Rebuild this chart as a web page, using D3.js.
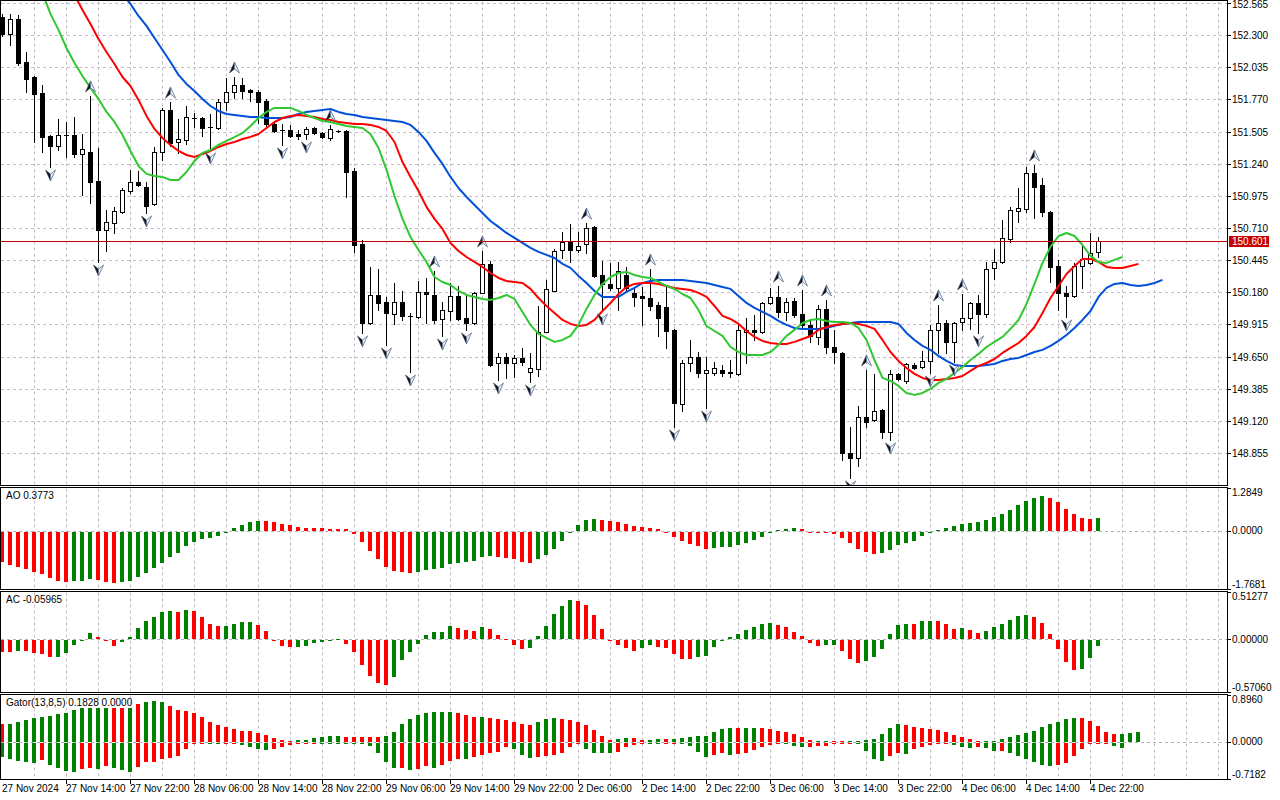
<!DOCTYPE html>
<html>
<head>
<meta charset="utf-8">
<style>
  html, body { margin: 0; padding: 0; background: #fff; }
  svg { display: block; }
  text { font-family: 'Liberation Sans', Arial, sans-serif; font-size: 10px; fill: #000; }
</style>
<script src="https://cdn.jsdelivr.net/npm/d3@7/dist/d3.min.js"></script>
</head>
<body>
<div id="chart"></div>
<script>
/* ════════════════════════════════════════════════════
   USDJPY H1 — candles, Alligator, Fractals, AO, AC, Gator
   ════════════════════════════════════════════════════ */

/* ── Candles (bar 0 = 27 Nov 06:00, one bar per hour) ── */
const opens = [
  152.450,152.310,152.434,152.079,151.955,151.823,151.469,151.387,151.477,151.477,
  151.320,151.337,151.098,150.694,150.751,150.842,151.016,151.090,151.049,150.908,
  151.337,151.683,151.420,151.436,151.617,151.617,151.543,151.535,151.749,151.832,
  151.889,151.848,151.832,151.757,151.568,151.518,151.518,151.485,151.485,151.535,
  151.494,151.452,151.510,151.510,151.180,150.578,149.927,150.158,150.100,150.001,
  150.100,149.985,149.976,150.183,150.158,149.960,150.026,150.150,149.968,149.927,
  150.174,150.414,149.597,149.647,149.597,149.639,149.523,149.548,149.853,150.191,
  150.529,150.595,150.529,150.578,150.718,150.323,150.249,150.216,150.323,150.174,
  150.150,150.133,150.076,150.059,149.870,149.259,149.597,149.647,149.515,149.515,
  149.540,149.523,149.507,149.853,149.870,149.853,150.092,150.141,150.018,150.109,
  150.001,149.911,149.812,150.042,149.729,149.680,148.856,148.814,149.152,149.128,
  149.210,149.029,149.507,149.449,149.581,149.564,149.614,149.870,149.927,149.771,
  149.935,149.968,150.092,150.001,150.381,150.430,150.619,150.850,150.867,151.164,
  151.065,150.842,150.397,150.174,150.150,150.397,150.422,150.513];
const highs = [
  152.475,152.475,152.467,152.162,151.960,151.889,151.477,151.609,151.584,151.625,
  151.485,151.799,151.370,150.859,150.883,151.040,151.189,151.180,151.090,151.378,
  151.700,151.749,151.609,151.716,151.658,151.625,151.650,151.774,151.947,151.955,
  151.947,151.856,151.848,151.774,151.584,151.568,151.560,151.518,151.543,151.543,
  151.502,151.560,151.518,151.518,151.205,150.611,150.389,150.372,150.141,150.257,
  150.191,150.009,150.273,150.298,150.356,150.100,150.257,150.232,150.166,150.183,
  150.521,150.438,149.680,149.680,149.663,149.721,149.680,150.067,150.282,150.537,
  150.677,150.743,150.677,150.751,150.727,150.438,150.422,150.430,150.389,150.224,
  150.224,150.372,150.100,150.224,149.878,149.622,149.787,149.688,149.647,149.606,
  149.581,149.622,149.927,149.968,149.993,150.100,150.216,150.232,150.133,150.133,
  150.199,149.952,150.076,150.117,149.870,149.688,149.070,149.243,149.540,149.507,
  149.218,149.540,149.515,149.597,149.597,149.696,149.911,150.076,149.952,149.935,
  150.166,150.100,150.158,150.430,150.537,150.776,150.883,151.040,151.213,151.230,
  151.123,150.850,150.447,150.232,150.422,150.562,150.669,150.636];
const lows = [
  152.294,152.219,152.054,151.832,151.420,151.337,151.213,151.353,151.295,151.295,
  150.982,150.917,150.430,150.521,150.669,150.834,150.999,151.057,150.834,150.900,
  151.271,151.387,151.329,151.403,151.543,151.469,151.353,151.530,151.683,151.782,
  151.782,151.757,151.576,151.535,151.502,151.395,151.460,151.444,151.444,151.485,
  151.455,151.436,151.502,150.966,150.513,149.845,149.922,150.034,149.746,149.919,
  149.952,149.523,149.972,149.927,149.927,149.820,149.952,149.952,149.870,149.919,
  150.170,149.573,149.457,149.474,149.482,149.581,149.441,149.490,149.850,150.188,
  150.463,150.430,150.513,150.504,150.310,150.026,150.199,150.034,150.183,150.067,
  149.911,150.034,149.820,149.721,149.070,149.202,149.531,149.482,149.226,149.498,
  149.490,149.482,149.498,149.597,149.787,149.845,150.084,149.976,149.952,149.976,
  149.894,149.771,149.754,149.680,149.597,148.798,148.649,148.748,149.070,149.119,
  148.979,148.963,149.457,149.432,149.548,149.556,149.515,149.680,149.680,149.606,
  149.870,149.878,149.845,149.976,150.290,150.422,150.595,150.760,150.842,150.793,
  150.809,150.265,150.034,149.976,150.141,150.216,150.414,150.471];
const closes = [
  152.310,152.434,152.070,151.939,151.815,151.460,151.387,151.477,151.473,151.320,
  151.361,151.090,150.694,150.760,150.850,151.024,151.090,151.065,150.892,151.337,
  151.683,151.411,151.444,151.625,151.613,151.535,151.539,151.749,151.832,151.889,
  151.840,151.832,151.749,151.568,151.510,151.515,151.469,151.469,151.527,151.494,
  151.460,151.527,151.508,151.172,150.570,149.927,150.158,150.092,150.009,150.100,
  149.985,149.982,150.183,150.166,149.952,150.034,150.150,149.960,149.927,150.174,
  150.414,149.581,149.647,149.597,149.639,149.606,149.556,149.853,150.208,150.521,
  150.595,150.529,150.562,150.710,150.315,150.249,150.216,150.356,150.216,150.141,
  150.133,150.067,149.968,149.861,149.268,149.597,149.647,149.515,149.540,149.556,
  149.515,149.513,149.870,149.870,149.853,150.092,150.141,150.018,150.100,149.993,
  149.911,149.820,150.042,149.729,149.688,148.856,148.814,149.152,149.111,149.202,
  149.029,149.507,149.465,149.589,149.556,149.614,149.870,149.927,149.771,149.927,
  149.968,150.092,150.001,150.372,150.430,150.628,150.859,150.875,151.164,151.049,
  150.842,150.389,150.174,150.150,150.397,150.455,150.504,150.601];

/* ── Alligator (values as drawn, i.e. already shifted forward) ── */
const jaw = [
  154.000,153.909,153.818,153.728,153.637,153.546,153.456,153.365,153.274,153.184,
  153.093,153.002,152.912,152.821,152.730,152.639,152.557,152.458,152.376,152.277,
  152.178,152.079,151.972,151.898,151.840,151.774,151.716,151.675,151.650,151.642,
  151.634,151.625,151.625,151.617,151.617,151.617,151.625,151.650,151.667,151.675,
  151.683,151.691,151.667,151.650,151.642,151.625,151.617,151.609,151.601,151.592,
  151.584,151.560,151.502,151.428,151.329,151.238,151.131,151.040,150.966,150.900,
  150.834,150.768,150.719,150.669,150.628,150.587,150.546,150.513,150.488,150.463,
  150.414,150.381,150.315,150.257,150.191,150.142,150.142,150.142,150.183,150.216,
  150.257,150.273,150.282,150.282,150.282,150.282,150.273,150.265,150.257,150.240,
  150.224,150.208,150.150,150.092,150.051,150.018,149.985,149.944,149.911,149.886,
  149.878,149.878,149.878,149.886,149.903,149.919,149.927,149.935,149.935,149.935,
  149.935,149.935,149.919,149.845,149.787,149.738,149.705,149.655,149.614,149.581,
  149.573,149.573,149.573,149.581,149.589,149.614,149.630,149.639,149.663,149.688,
  149.705,149.738,149.779,149.828,149.886,149.952,150.026,150.142,150.216,150.249,
  150.257,150.240,150.232,150.240,150.257,150.282];
const teeth = [
  153.744,153.621,153.497,153.373,153.250,153.126,153.002,152.879,152.755,152.631,
  152.508,152.392,152.268,152.161,152.062,151.955,151.881,151.766,151.634,151.527,
  151.452,151.395,151.345,151.312,151.296,151.320,151.345,151.378,151.403,151.419,
  151.444,151.461,151.485,151.535,151.584,151.617,151.634,151.642,151.634,151.625,
  151.609,151.601,151.584,151.576,151.568,151.568,151.560,151.543,151.510,151.419,
  151.254,151.131,151.015,150.884,150.785,150.702,150.587,150.521,150.471,150.430,
  150.389,150.339,150.298,150.273,150.265,150.257,150.208,150.133,150.067,150.010,
  149.952,149.919,149.903,149.911,149.952,150.026,150.092,150.166,150.224,150.249,
  150.257,150.257,150.249,150.232,150.216,150.208,150.199,150.175,150.142,150.067,
  149.985,149.960,149.919,149.861,149.812,149.779,149.762,149.754,149.754,149.771,
  149.795,149.820,149.870,149.894,149.911,149.919,149.927,149.919,149.903,149.878,
  149.787,149.688,149.614,149.556,149.507,149.474,149.457,149.457,149.466,149.474,
  149.490,149.532,149.573,149.597,149.630,149.680,149.721,149.762,149.820,149.894,
  150.010,150.133,150.232,150.331,150.397,150.455,150.455,150.430,150.389,150.381,
  150.381,150.397,150.414];
const lips = [
  153.414,153.250,153.085,152.936,152.796,152.648,152.475,152.343,152.194,152.071,
  151.963,151.865,151.774,151.667,151.584,151.477,151.345,151.221,151.156,151.139,
  151.131,151.106,151.106,151.172,151.263,151.329,151.353,151.395,151.428,151.460,
  151.494,151.551,151.617,151.667,151.700,151.700,151.700,151.675,151.642,151.617,
  151.592,151.584,151.568,151.551,151.543,151.535,151.485,151.370,151.189,150.974,
  150.785,150.636,150.529,150.430,150.306,150.265,150.240,150.191,150.158,150.141,
  150.125,150.117,150.133,150.158,150.125,150.018,149.911,149.837,149.804,149.771,
  149.787,149.820,149.911,150.043,150.158,150.249,150.306,150.339,150.348,150.323,
  150.306,150.298,150.265,150.232,150.207,150.166,150.133,150.034,149.902,149.861,
  149.820,149.729,149.688,149.663,149.663,149.663,149.688,149.746,149.820,149.870,
  149.927,149.952,149.960,149.944,149.935,149.935,149.927,149.886,149.787,149.622,
  149.474,149.449,149.408,149.350,149.334,149.350,149.383,149.433,149.466,149.515,
  149.564,149.622,149.672,149.729,149.771,149.812,149.878,149.952,150.084,150.249,
  150.422,150.554,150.644,150.669,150.644,150.570,150.480,150.430,150.422,150.447,
  150.471];

/* ── Fractals (bar indices) ── */
const fractalUp   = [11, 21, 29, 41, 54, 60, 73, 81, 97, 100, 103, 108, 117, 120, 129];
const fractalDown = [6, 12, 18, 26, 35, 38, 45, 48, 51, 55, 58, 62, 66, 75, 84, 88,
                     106, 111, 116, 119, 122, 133];

/* ── Awesome Oscillator ── */
const aoValues = [
  -0.926,-1.008,-1.060,-1.132,-1.214,-1.276,-1.399,-1.492,-1.523,-1.492,
  -1.490,-1.440,-1.471,-1.523,-1.553,-1.523,-1.502,-1.368,-1.245,-1.091,
  -0.957,-0.761,-0.638,-0.453,-0.309,-0.237,-0.206,-0.123,-0.051,0.072,
  0.175,0.267,0.288,0.278,0.247,0.195,0.165,0.093,0.090,0.072,
  0.070,0.060,0.050,0.040,-0.083,-0.329,-0.586,-0.823,-1.080,-1.203,
  -1.210,-1.265,-1.235,-1.173,-1.142,-1.111,-0.988,-0.957,-0.926,-0.895,
  -0.772,-0.741,-0.772,-0.802,-0.833,-0.926,-0.957,-0.833,-0.710,-0.525,
  -0.278,-0.010,0.154,0.309,0.340,0.309,0.278,0.247,0.185,0.123,
  0.093,0.090,0.031,-0.005,-0.154,-0.278,-0.370,-0.432,-0.525,-0.494,
  -0.463,-0.460,-0.401,-0.340,-0.247,-0.154,-0.051,0.010,0.031,0.062,
  0.031,-0.021,-0.051,-0.055,-0.082,-0.206,-0.360,-0.514,-0.628,-0.679,
  -0.648,-0.545,-0.422,-0.360,-0.288,-0.144,-0.041,0.021,0.082,0.123,
  0.185,0.216,0.247,0.309,0.401,0.494,0.617,0.772,0.895,0.988,
  1.049,0.988,0.864,0.648,0.494,0.370,0.340,0.3773];
const aoColors =
  'rrrrrrrrrg' + 'ggrrrggggg' + 'gggggggggg' + 'gggrrrrrrr' + 'rrrrrrrrrr' +
  'rrgggggggg' + 'ggrrrrrggg' + 'gggggrrrrr' + 'rrrrrrrrrg' + 'gggggggggg' +
  'rrrrrrrrrr' + 'gggggggggg' + 'gggggggggg' + 'grrrrrrg';

/* ── Accelerator Oscillator ── */
const acValues = [
  -0.122,-0.125,-0.114,-0.116,-0.140,-0.147,-0.181,-0.178,-0.136,-0.048,
  -0.002,0.074,0.026,-0.011,-0.059,-0.015,0.026,0.125,0.203,0.247,
  0.298,0.310,0.298,0.321,0.310,0.243,0.166,0.144,0.146,0.166,
  0.188,0.190,0.155,0.088,-0.002,-0.066,-0.077,-0.074,-0.063,-0.033,
  -0.018,-0.004,0.002,-0.041,-0.122,-0.262,-0.387,-0.461,-0.486,-0.396,
  -0.217,-0.129,-0.041,0.044,0.077,0.079,0.144,0.122,0.099,0.088,
  0.133,0.111,0.044,0.002,-0.055,-0.099,-0.088,0.033,0.144,0.276,
  0.365,0.431,0.420,0.376,0.265,0.111,-0.002,-0.055,-0.088,-0.111,
  -0.088,-0.055,-0.077,-0.088,-0.144,-0.199,-0.200,-0.177,-0.166,-0.077,
  -0.002,0.022,0.055,0.099,0.133,0.166,0.177,0.155,0.133,0.077,
  0.033,-0.029,-0.063,-0.052,-0.050,-0.118,-0.206,-0.251,-0.228,-0.184,
  -0.096,0.055,0.155,0.166,0.163,0.199,0.203,0.199,0.166,0.111,
  0.122,0.099,0.066,0.088,0.133,0.166,0.210,0.254,0.265,0.243,
  0.177,0.055,-0.092,-0.240,-0.317,-0.306,-0.195,-0.05965];
const acColors =
  'rrgrrrrggg' + 'ggrrrggggg' + 'ggrgrrrrgg' + 'ggrrrrrggg' + 'gggrrrrrrg' +
  'gggggggrrr' + 'grrrrrgggg' + 'ggrrrrrrrr' + 'ggrrrrrggg' + 'gggggggrrr' +
  'rrrggrrrgg' + 'ggggrggrrr' + 'grrggggggr' + 'rrrrrggg';

/* ── Gator Oscillator ── */
const gatorUp = [
  0.335,0.341,0.381,0.407,0.446,0.479,0.499,0.525,0.551,0.604,
  0.643,0.645,0.647,0.643,0.640,0.650,0.645,0.722,0.755,0.787,
  0.755,0.676,0.617,0.597,0.558,0.479,0.381,0.322,0.282,0.243,
  0.203,0.200,0.164,0.125,0.066,0.026,0.007,0.026,0.030,0.066,
  0.085,0.105,0.107,0.085,0.085,0.084,0.083,0.082,0.105,0.184,
  0.341,0.440,0.518,0.558,0.560,0.562,0.577,0.558,0.518,0.479,
  0.481,0.459,0.440,0.420,0.381,0.341,0.322,0.381,0.440,0.459,
  0.440,0.420,0.381,0.322,0.223,0.105,0.026,0.046,0.066,0.064,
  0.026,0.033,0.046,0.044,0.046,0.066,0.085,0.105,0.107,0.184,
  0.243,0.262,0.260,0.262,0.264,0.262,0.243,0.203,0.184,0.144,
  0.080,0.039,0.020,0.020,0.020,0.020,0.020,0.020,0.039,0.059,
  0.138,0.256,0.335,0.315,0.276,0.256,0.236,0.217,0.177,0.118,
  0.098,0.059,0.020,0.020,0.020,0.059,0.098,0.118,0.157,0.197,
  0.276,0.335,0.374,0.433,0.453,0.450,0.394,0.295,0.177,0.138,
  0.140,0.170,0.183];
const gatorUpColors =
  'rggggggggg' + 'ggggrrgrgg' + 'grrrrrrrrr' + 'rrrrrrrggg' + 'gggrrrrrgg' +
  'gggggggrrr' + 'grrrrrrggg' + 'rrrrrrrggr' + 'rggrgggggg' + 'ggrggrrrrr' +
  'rrggrrgggg' + 'gggrrrrrrr' + 'rrrggggggg' + 'gggggrrrrr' + 'ggg';
const gatorDown = [
  -0.282,-0.308,-0.348,-0.367,-0.387,-0.341,-0.427,-0.492,-0.545,-0.558,
  -0.505,-0.492,-0.499,-0.453,-0.486,-0.530,-0.558,-0.472,-0.374,-0.367,
  -0.310,-0.289,-0.249,-0.131,-0.020,-0.005,-0.010,-0.033,-0.020,-0.005,
  -0.052,-0.092,-0.131,-0.151,-0.131,-0.092,-0.052,-0.030,-0.020,-0.005,
  -0.003,-0.005,-0.006,-0.007,-0.010,-0.020,-0.072,-0.190,-0.367,-0.486,
  -0.484,-0.525,-0.505,-0.446,-0.486,-0.427,-0.348,-0.308,-0.310,-0.269,
  -0.230,-0.190,-0.188,-0.092,-0.118,-0.230,-0.289,-0.269,-0.249,-0.247,
  -0.190,-0.092,-0.020,-0.131,-0.190,-0.192,-0.194,-0.171,-0.092,-0.052,
  -0.033,-0.035,-0.036,-0.020,-0.007,-0.033,-0.072,-0.171,-0.269,-0.230,
  -0.190,-0.230,-0.210,-0.190,-0.151,-0.092,-0.052,-0.013,-0.033,-0.072,
  -0.079,-0.079,-0.059,-0.059,-0.020,-0.013,-0.010,-0.013,-0.157,-0.315,
  -0.354,-0.256,-0.197,-0.217,-0.118,-0.079,-0.046,-0.030,-0.026,-0.039,
  -0.079,-0.098,-0.079,-0.098,-0.157,-0.154,-0.197,-0.256,-0.315,-0.374,
  -0.433,-0.453,-0.433,-0.394,-0.256,-0.118,-0.010,-0.005,-0.005,-0.059,
  -0.098];
const gatorDownColors =
  'gggggrgggg' + 'rrgrgggrrr' + 'rrrrrrggrr' + 'ggggrrrrrr' + 'gggggggggg' +
  'rgrrgrrrgr' + 'rrrrgggrrr' + 'rrrggggrrr' + 'rggrrggggr' + 'rgrrrrrrgg' +
  'grrrrrrggg' + 'grrgrrrrrg' + 'ggrggrgggg' + 'ggrrrrrrrg' + 'g';

/* ── Axis labels ── */
const priceTicks = [152.565, 152.300, 152.035, 151.770, 151.505, 151.240, 150.975, 150.710,
                    150.445, 150.180, 149.915, 149.650, 149.385, 149.120, 148.855];
const timeLabels = ['27 Nov 2024', '27 Nov 14:00', '27 Nov 22:00', '28 Nov 06:00',
  '28 Nov 14:00', '28 Nov 22:00', '29 Nov 06:00', '29 Nov 14:00', '29 Nov 22:00',
  '2 Dec 06:00', '2 Dec 14:00', '2 Dec 22:00', '3 Dec 06:00', '3 Dec 14:00',
  '3 Dec 22:00', '4 Dec 06:00', '4 Dec 14:00', '4 Dec 22:00'];
const aoAxis    = [1.2849, 0, -1.7681];
const acAxis    = [0.51277, 0, -0.57060];
const gatorAxis = [0.8960, 0, -0.7182];
const aoAxisText    = ['1.2849', '0.0000', '-1.7681'];
const acAxisText    = ['0.51277', '0.00000', '-0.57060'];
const gatorAxisText = ['0.8960', '0.0000', '-0.7182'];
const captions = ['AO 0.3773', 'AC -0.05965', 'Gator(13,8,5) 0.1828 0.0000'];

/* ════════════════ Layout ════════════════ */
const W = 1280, H = 800;
const RIGHT = 1227;
const PANELS = {
  main:  { top: 0.5,   bottom: 485.5 },
  ao:    { top: 487.5, bottom: 589.5 },
  ac:    { top: 591.5, bottom: 692.5 },
  gator: { top: 694.5, bottom: 779.5 },
};
const GRID = '#c4bcc8';
const UP_CLR = '#008000', DN_CLR = '#ff0000';
const BAR_STEP = 8;

const x = d3.scaleLinear().domain([0, 1]).range([2.5, 2.5 + BAR_STEP]);
const y = d3.scaleLinear().domain([148.855, 152.565]).range([453, 3]);
const yAO = d3.scaleLinear().domain([aoAxis[2], aoAxis[0]]).range([589, 488]);
const yAC = d3.scaleLinear().domain([acAxis[2], acAxis[0]]).range([692, 592]);
const yGator = d3.scaleLinear().domain([gatorAxis[2], gatorAxis[0]]).range([779, 695]);

const svg = d3.select('#chart').append('svg')
  .attr('width', W).attr('height', H)
  .style('background', '#fff');

const defs = svg.append('defs');
defs.append('clipPath').attr('id', 'clip-main')
  .append('rect').attr('x', 1).attr('y', 1).attr('width', RIGHT - 1).attr('height', 484);
Object.entries(PANELS).forEach(([k, p]) => {
  if (k === 'main') return;
  defs.append('clipPath').attr('id', `clip-${k}`)
    .append('rect').attr('x', 1).attr('y', p.top + 0.5)
    .attr('width', RIGHT - 1).attr('height', p.bottom - p.top - 1);
});

/* ── Grid ── */
const gridBars = d3.range(4, 153, 4);
const gridG = svg.append('g');
Object.values(PANELS).forEach(p => {
  gridG.append('g').selectAll('line')
    .data(gridBars)
    .join('line')
    .attr('x1', d => x(d)).attr('x2', d => x(d))
    .attr('y1', p.top + 1).attr('y2', p.bottom - 1)
    .attr('stroke', GRID).attr('stroke-dasharray', '3,3');
});
gridG.append('g').selectAll('line')
  .data(priceTicks)
  .join('line')
  .attr('x1', 1).attr('x2', RIGHT)
  .attr('y1', d => Math.round(y(d)) + 0.5).attr('y2', d => Math.round(y(d)) + 0.5)
  .attr('stroke', GRID).attr('stroke-dasharray', '3,3');
[yAO, yAC, yGator].forEach(s => {
  gridG.append('line')
    .attr('x1', 1).attr('x2', RIGHT)
    .attr('y1', Math.round(s(0)) + 0.5).attr('y2', Math.round(s(0)) + 0.5)
    .attr('stroke', '#b0b4c4').attr('stroke-dasharray', '3,3');
});

/* ── Main panel ── */
const mainG = svg.append('g').attr('clip-path', 'url(#clip-main)');
const bars = d3.range(opens.length).map(i => ({
  i, o: opens[i], h: highs[i], l: lows[i], c: closes[i],
}));

/* wicks */
mainG.append('g').selectAll('line')
  .data(bars)
  .join('line')
  .attr('x1', d => x(d.i)).attr('x2', d => x(d.i))
  .attr('y1', d => Math.round(y(d.h))).attr('y2', d => Math.round(y(d.l)) + 1)
  .attr('stroke', '#000');

/* bodies */
mainG.append('g').selectAll('rect')
  .data(bars)
  .join('rect')
  .each(function (d) {
    const top = Math.round(y(Math.max(d.o, d.c)));
    const bot = Math.round(y(Math.min(d.o, d.c)));
    const el = d3.select(this);
    if (d.c > d.o && bot - top >= 2) {
      el.attr('x', x(d.i) - 2).attr('y', top + 0.5)
        .attr('width', 4).attr('height', bot - top)
        .attr('fill', '#fff').attr('stroke', '#000');
    } else {
      el.attr('x', x(d.i) - 2.5).attr('y', top)
        .attr('width', 5).attr('height', Math.max(1, bot - top + 1))
        .attr('fill', '#000');
    }
  });

/* alligator */
const lineGen = d3.line().x((d, i) => x(i)).y(d => y(d));
[[jaw, '#0050d8'], [teeth, '#ff0000'], [lips, '#30c830']].forEach(([data, clr]) => {
  mainG.append('path')
    .datum(data)
    .attr('d', lineGen)
    .attr('fill', 'none')
    .attr('stroke', clr)
    .attr('stroke-width', 2)
    .attr('stroke-linejoin', 'round');
});

/* fractals — two-tone arrowheads (dark left half, light right half) */
function drawFractals(idx, dir) {
  const g = mainG.append('g');
  idx.forEach(i => {
    const cx = x(i);
    const base = dir < 0 ? y(highs[i]) - 4 : y(lows[i]) + 3;
    const tip = base + dir * 11;
    const notch = base + dir * 4;
    g.append('path')
      .attr('d', `M${cx},${tip} L${cx - 5},${base} L${cx},${notch} Z`)
      .attr('fill', '#141414').attr('stroke', '#3a4656').attr('stroke-width', 0.6);
    g.append('path')
      .attr('d', `M${cx},${tip} L${cx + 5},${base} L${cx},${notch} Z`)
      .attr('fill', '#e8eef6').attr('stroke', '#5a7090').attr('stroke-width', 0.8);
  });
}
drawFractals(fractalUp, -1);
drawFractals(fractalDown, 1);

/* bid line */
const lastClose = closes[closes.length - 1];
svg.append('line')
  .attr('x1', 1).attr('x2', RIGHT)
  .attr('y1', Math.round(y(lastClose)) + 0.5).attr('y2', Math.round(y(lastClose)) + 0.5)
  .attr('stroke', '#c00000');

/* ── Histograms ── */
function drawHist(panelKey, values, colors, scale) {
  const z = Math.round(scale(0));
  svg.append('g').attr('clip-path', `url(#clip-${panelKey})`)
    .selectAll('rect')
    .data(values)
    .join('rect')
    .attr('x', (d, i) => x(i) - 2.5)
    .attr('width', 4)
    .attr('y', d => d >= 0 ? Math.round(scale(d)) : z + 1)
    .attr('height', d => Math.max(1, Math.abs(Math.round(scale(d)) - z)))
    .attr('fill', (d, i) => colors[i] === 'g' ? UP_CLR : DN_CLR);
}
drawHist('ao', aoValues, aoColors, yAO);
drawHist('ac', acValues, acColors, yAC);
drawHist('gator', gatorUp, gatorUpColors, yGator);
drawHist('gator', gatorDown, gatorDownColors, yGator);

/* ── Frames ── */
Object.values(PANELS).forEach(p => {
  svg.append('rect')
    .attr('x', 0.5).attr('y', p.top)
    .attr('width', RIGHT).attr('height', p.bottom - p.top)
    .attr('fill', 'none').attr('stroke', '#000');
});

/* ── Price axis ── */
const axisG = svg.append('g');
axisG.selectAll('line.pt')
  .data(priceTicks)
  .join('line')
  .attr('class', 'pt')
  .attr('x1', RIGHT + 0.5).attr('x2', RIGHT + 4)
  .attr('y1', d => Math.round(y(d)) + 0.5).attr('y2', d => Math.round(y(d)) + 0.5)
  .attr('stroke', '#000');
axisG.selectAll('text.pt')
  .data(priceTicks)
  .join('text')
  .attr('class', 'pt')
  .attr('x', 1232)
  .attr('y', d => Math.max(8, y(d) + 4))
  .text(d => d.toFixed(3));

/* current price tag */
axisG.append('rect')
  .attr('x', 1229).attr('y', Math.round(y(lastClose)) - 5)
  .attr('width', 40).attr('height', 11)
  .attr('fill', '#c80000');
axisG.append('text')
  .attr('x', 1232).attr('y', Math.round(y(lastClose)) + 4)
  .style('fill', '#fff')
  .text(lastClose.toFixed(3));

/* indicator axes */
[[yAO, aoAxis, aoAxisText], [yAC, acAxis, acAxisText], [yGator, gatorAxis, gatorAxisText]]
  .forEach(([s, vals, txt]) => {
    axisG.append('g').selectAll('line')
      .data(vals)
      .join('line')
      .attr('x1', RIGHT + 0.5).attr('x2', RIGHT + 4)
      .attr('y1', d => Math.round(s(d)) + 0.5).attr('y2', d => Math.round(s(d)) + 0.5)
      .attr('stroke', '#000');
    axisG.append('g').selectAll('text')
      .data(vals)
      .join('text')
      .attr('x', 1232)
      .attr('y', (d, i) => i === 0 ? s(d) + 8 : i === 1 ? s(d) + 3.5 : s(d) - 1.5)
      .text((d, i) => txt[i]);
  });

/* ── Time axis ── */
const timeIdx = timeLabels.map((t, k) => k * 8);
axisG.append('g').selectAll('line')
  .data(timeIdx.slice(1))
  .join('line')
  .attr('x1', d => x(d)).attr('x2', d => x(d))
  .attr('y1', 780).attr('y2', 784)
  .attr('stroke', '#000');
axisG.append('g').selectAll('text')
  .data(timeLabels)
  .join('text')
  .attr('x', (t, k) => x(timeIdx[k]) - 0.5)
  .attr('y', 792)
  .text(t => t);

/* ── Indicator captions ── */
svg.append('g').selectAll('text')
  .data(captions)
  .join('text')
  .attr('x', 6)
  .attr('y', (d, i) => [PANELS.ao, PANELS.ac, PANELS.gator][i].top + 11.5)
  .text(d => d);
</script>
</body>
</html>
